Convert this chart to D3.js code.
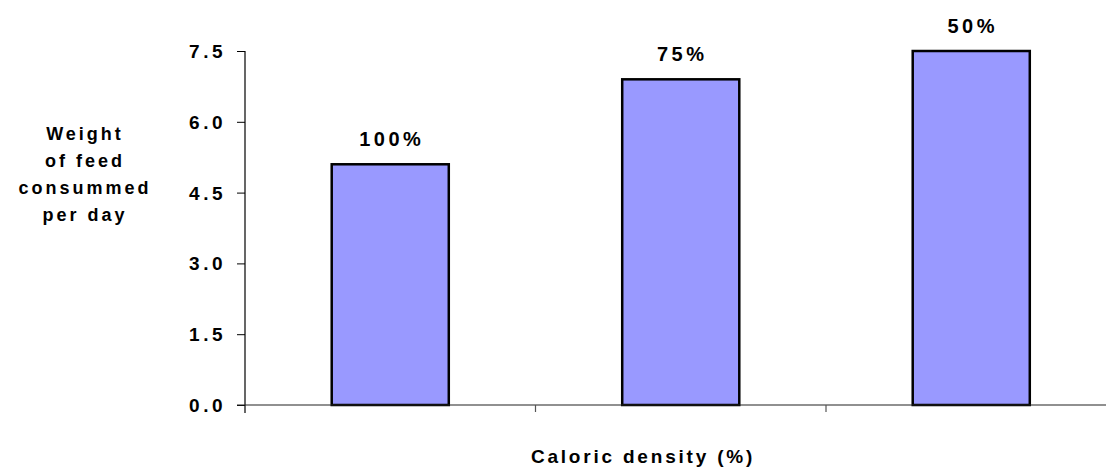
<!DOCTYPE html>
<html>
<head>
<meta charset="utf-8">
<script src="https://cdn.jsdelivr.net/npm/d3@7/dist/d3.min.js"></script>
<style>
  html, body { margin: 0; padding: 0; background: #fff; }
  svg { display: block; }
  text { font-family: "Liberation Sans", Arial, sans-serif; font-weight: bold; fill: #000; }
</style>
</head>
<body>
<svg id="chart" width="1106" height="468"></svg>
<script>
const categories = ["100%", "75%", "50%"];
const values = [5.1, 6.9, 7.5];
const yTicks = [0, 1.5, 3.0, 4.5, 6.0, 7.5];
const yTitleLines = ["Weight", "of feed", "consummed", "per day"];
const xTitle = "Caloric density (%)";

(function () {
const svg = d3.select("#chart");
const mLeft = 245, mRight = 1116.5, mTop = 51, mBottom = 405;

const x = d3.scaleBand().domain(categories).range([mLeft, mRight])
  .paddingInner(0.597).paddingOuter(0.2985);
const y = d3.scaleLinear().domain([0, 7.5]).range([mBottom, mTop]);

// bars
svg.append("g").selectAll("rect").data(categories).join("rect")
  .attr("x", d => x(d))
  .attr("y", (d, i) => y(values[i]))
  .attr("width", x.bandwidth())
  .attr("height", (d, i) => y(0) - y(values[i]))
  .attr("fill", "#9999ff")
  .attr("stroke", "#000")
  .attr("stroke-width", 2.5);

// bar labels
svg.append("g").selectAll("text").data(categories).join("text")
  .attr("x", d => x(d) + x.bandwidth() / 2 + 1.5)
  .attr("y", (d, i) => y(values[i]) - 18)
  .attr("text-anchor", "middle")
  .style("font-size", "20px")
  .style("letter-spacing", "3.5px")
  .text(d => d);

// y axis
const yAxis = d3.axisLeft(y).tickValues(yTicks).tickSize(8).tickPadding(14)
  .tickFormat(d3.format(".1f"));
const gy = svg.append("g").attr("transform", `translate(${mLeft},0)`).call(yAxis);
gy.select(".domain").remove();
gy.selectAll(".tick line").attr("stroke", "#000").attr("stroke-width", 1);
gy.selectAll(".tick text")
  .style("font-size", "19px")
  .style("letter-spacing", "3.5px")
  .style("font-family", "'Liberation Sans', Arial, sans-serif")
  .style("font-weight", "bold")
  .attr("dy", "0.34em")
  .attr("dx", "3px");
gy.append("line")
  .attr("x1", 0).attr("x2", 0)
  .attr("y1", y(7.5)).attr("y2", y(0) + 8)
  .attr("stroke", "#000").attr("stroke-width", 1.2);

// x axis
const boundaries = [mLeft].concat(categories.map(d => x(d) + x.bandwidth() + x.step() * x.paddingInner() / 2));
svg.append("line")
  .attr("x1", mLeft - 8).attr("x2", mRight)
  .attr("y1", y(0)).attr("y2", y(0))
  .attr("stroke", "#222").attr("stroke-width", 1.2);
svg.append("g").selectAll("line").data(boundaries.slice(1)).join("line")
  .attr("x1", d => d).attr("x2", d => d)
  .attr("y1", y(0)).attr("y2", y(0) + 7)
  .attr("stroke", "#555").attr("stroke-width", 1.2);

// y title
svg.append("g").selectAll("text").data(yTitleLines).join("text")
  .attr("x", 85)
  .attr("y", (d, i) => 139.5 + i * 27.2)
  .attr("text-anchor", "middle")
  .style("font-size", "18px")
  .style("letter-spacing", "3px")
  .text(d => d);

// x title
svg.append("text")
  .attr("x", 643)
  .attr("y", 462.5)
  .attr("text-anchor", "middle")
  .style("font-size", "19px")
  .style("letter-spacing", "2.8px")
  .text(xTitle);
})();
</script>
</body>
</html>
